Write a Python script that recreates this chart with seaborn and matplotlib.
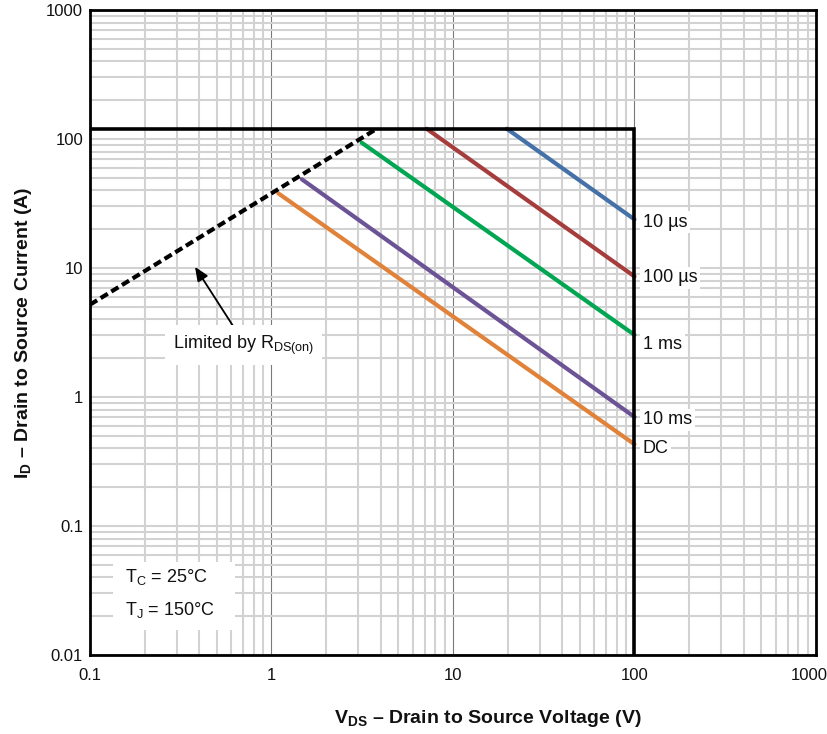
import numpy as np
import pandas as pd
import matplotlib
matplotlib.use("Agg")
import matplotlib.pyplot as plt
import matplotlib.transforms as mtransforms
from matplotlib.ticker import LogLocator, FixedLocator, NullFormatter
import seaborn as sns

# ---- data ----
dc_v = [1.09, 100]
dc_i = [37.9, 0.43]
ms10_v = [1.47, 100]
ms10_i = [48.7, 0.70]
ms1_v = [3.14, 100]
ms1_i = [93.6, 3.03]
us100_v = [7.16, 100]
us100_i = [120, 8.6]
us10_v = [19.8, 100]
us10_i = [120, 23.8]
rds_v = [0.1, 3.8]
rds_i = [5.2, 120]
limit_v = [0.1, 100, 100]
limit_i = [120, 120, 0.01]

series_names = ["DC", "10 ms", "1 ms", "100 µs", "10 µs"]
series_v = [dc_v, ms10_v, ms1_v, us100_v, us10_v]
series_i = [dc_i, ms10_i, ms1_i, us100_i, us10_i]
series_colors = ["#e0823a", "#6b5396", "#00a651", "#a63d3d", "#4471a8"]
label_offsets = [-3, -2, -7, -1, -2]  # vertical offsets (points) of the end labels

x_ticks = [0.1, 1, 10, 100, 1000]
x_tick_labels = ["0.1", "1", "10", "100", "1000"]
y_ticks = [0.01, 0.1, 1, 10, 100, 1000]
y_tick_labels = ["0.01", "0.1", "1", "10", "100", "1000"]

sns.set_theme(style="white")
plt.rcParams["font.family"] = ["Liberation Sans", "DejaVu Sans"]
plt.rcParams["mathtext.fontset"] = "custom"
plt.rcParams["mathtext.rm"] = "Liberation Sans"
plt.rcParams["mathtext.bf"] = "Liberation Sans:bold"
plt.rcParams["mathtext.it"] = "Liberation Sans:italic"

fig = plt.figure(figsize=(8.28, 7.34), dpi=100)
ax = fig.add_axes([90 / 828, (734 - 655) / 734, 726 / 828, 645 / 734])
ax.set_xscale("log")
ax.set_yscale("log")
ax.set_xlim(0.1, 1000)
ax.set_ylim(0.01, 1000)

# grid
grid_gray = "#d2d2d2"
ax.xaxis.set_minor_locator(LogLocator(base=10, subs=np.arange(2, 10)))
ax.yaxis.set_minor_locator(LogLocator(base=10, subs=np.arange(2, 10)))
ax.grid(which="minor", axis="both", color=grid_gray, linewidth=1.5, zorder=0)
ax.grid(which="major", axis="y", color=grid_gray, linewidth=1.5, zorder=0)
ax.grid(which="major", axis="x", color="#7a7a7a", linewidth=0.8, zorder=0)
ax.set_axisbelow(True)

# data as long frame
rows = []
for name, vs, cs in zip(series_names, series_v, series_i):
    for k, (v, c) in enumerate(zip(vs, cs)):
        rows.append({"series": name, "V": v, "I": c, "k": k})
df = pd.DataFrame(rows)

sns.lineplot(data=df, x="V", y="I", hue="series", hue_order=series_names,
             palette=dict(zip(series_names, series_colors)), linewidth=3.0,
             sort=False, estimator=None, legend=False, ax=ax, zorder=3)

# SOA limit (current limit and voltage limit)
lim_df = pd.DataFrame({"V": limit_v, "I": limit_i})
sns.lineplot(data=lim_df, x="V", y="I", color="black", linewidth=2.6, sort=False,
             estimator=None, ax=ax, zorder=4)
ax.lines[-1].set_solid_joinstyle("miter")

# RDS(on) limit, dashed
rds_df = pd.DataFrame({"V": rds_v, "I": rds_i})
sns.lineplot(data=rds_df, x="V", y="I", color="black", linewidth=3.0, sort=False,
             estimator=None, ax=ax, zorder=4)
ax.lines[-1].set_dashes((2.0, 1.0))

# end labels
for name, vs, cs, off in zip(series_names, series_v, series_i, label_offsets):
    ax.annotate(name, xy=(vs[-1], cs[-1]), xytext=(6, off), textcoords="offset points",
                ha="left", va="center", fontsize=13, color="#111111",
                bbox=dict(boxstyle="square,pad=0.15", fc="white", ec="none"), zorder=5)

# Limited by RDS(on)
ax.annotate("", xy=(0.379, 10.2), xytext=(0.645, 3.19),
            arrowprops=dict(arrowstyle="-|>,head_length=0.7,head_width=0.3",
                            color="black", lw=1.3, shrinkA=0, shrinkB=0), zorder=5)
ax.text(0.286, 2.53, r"Limited by R$_\mathregular{DS(on)}$", ha="left", va="center",
        fontsize=13, color="#111111",
        bbox=dict(boxstyle="square,pad=0.45", fc="white", ec="none"), zorder=5)

# conditions
ax.fill_between([0.134, 0.63], 0.0156, 0.0526, color="white", zorder=2, lw=0)
ax.text(0.156, 0.0403, "T$_\\mathregular{C}$ = 25°C", ha="left", va="center",
        fontsize=13, color="#111111", zorder=5)
ax.text(0.156, 0.0223, "T$_\\mathregular{J}$ = 150°C", ha="left", va="center",
        fontsize=13, color="#111111", zorder=5)

# ticks
ax.xaxis.set_major_locator(FixedLocator(x_ticks))
ax.set_xticklabels(x_tick_labels)
ax.yaxis.set_major_locator(FixedLocator(y_ticks))
ax.set_yticklabels(y_tick_labels)
ax.xaxis.set_minor_formatter(NullFormatter())
ax.yaxis.set_minor_formatter(NullFormatter())
ax.tick_params(which="both", length=0, labelsize=12, colors="#111111")
ax.tick_params(axis="x", pad=9)
ax.tick_params(axis="y", pad=5)
last = ax.get_xticklabels()[-1]
last.set_transform(last.get_transform() +
                   mtransforms.ScaledTranslation(-7 / 100, 0, fig.dpi_scale_trans))

for s in ax.spines.values():
    s.set_color("black")
    s.set_linewidth(2.0)
    s.set_zorder(6)

ax.set_xlabel(r"$\mathbf{V_{DS}}$ – Drain to Source Voltage (V)", fontsize=14,
              fontweight="bold", color="#111111", labelpad=18)
ax.xaxis.set_label_coords((488 - 90) / 726, -0.082)
ax.set_ylabel(r"$\mathbf{I_{D}}$ – Drain to Source Current (A)", fontsize=14,
              fontweight="bold", color="#111111", labelpad=16)
ax.yaxis.set_label_coords(-(90 - 34) / 726, 0.5)

fig.savefig("out.png", dpi=100)
